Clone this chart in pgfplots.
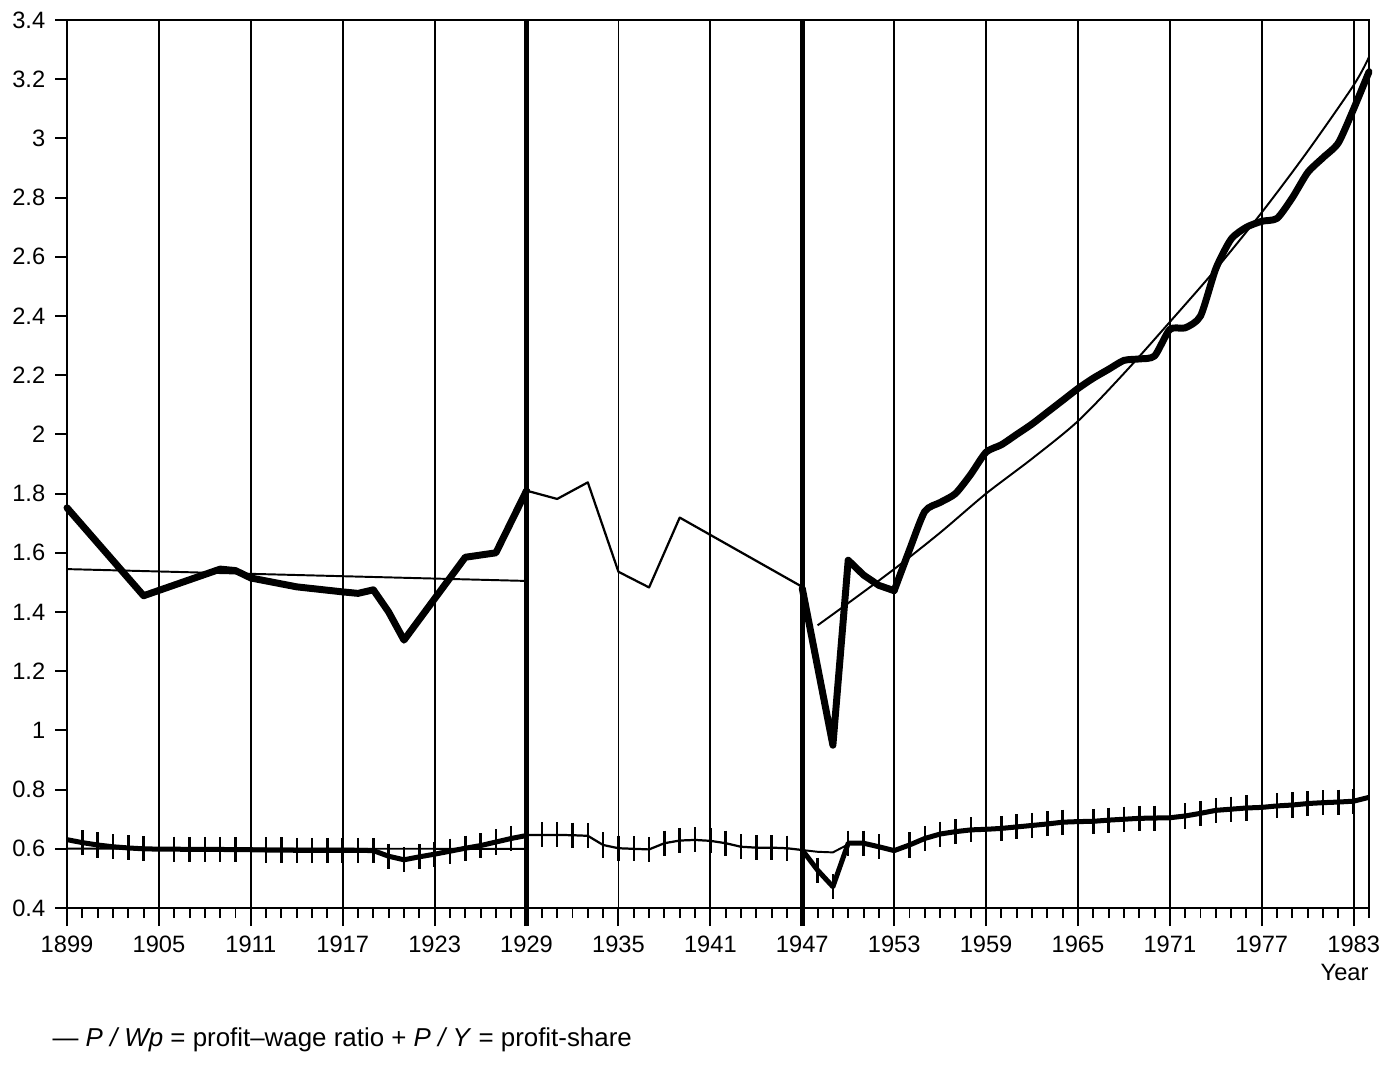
\documentclass[border=0pt]{standalone}
\usepackage{fontspec}
\setmainfont{Liberation Sans}
\usepackage{pgfplots}
\pgfplotsset{compat=1.18}

\begin{document}
\begin{tikzpicture}
\begin{axis}[
  scale only axis, width=467.7pt, height=319pt,
  xmin=1899, xmax=1984, ymin=0.4, ymax=3.4,
  clip=false,
  axis line style={black, line width=0.8pt},
  xtick={1899,1905,1911,1917,1923,1929,1935,1941,1947,1953,1959,1965,1971,1977,1983},
  minor xtick={1899,1900,...,1984},
  xtick pos=bottom, ytick pos=left,
  tick align=outside,
  major tick length=6.5pt, minor tick length=3.6pt,
  tick style={black, line width=0.7pt},
  xmajorgrids, major grid style={black, line width=0.65pt},
  ytick=\empty,
  extra y ticks={0.4,0.6,0.8,1,1.2,1.4,1.6,1.8,2,2.2,2.4,2.6,2.8,3,3.2,3.4},
  extra y tick style={major tick length=4.3pt},
  /pgf/number format/1000 sep={},
  /pgf/number format/assume math mode=true,
  tick label style={font=\fontsize{8.5}{10}\selectfont, black},
]
\coordinate (BL) at (rel axis cs:0,0);
\coordinate (TR) at (rel axis cs:1,1);

% thick separators
\draw[line width=1.8pt] ([yshift=-6.5pt]axis cs:1929,0.4) -- (axis cs:1929,3.4);
\draw[line width=1.8pt] ([yshift=-6.5pt]axis cs:1947,0.4) -- (axis cs:1947,3.4);

% P/Wp profit-wage ratio
\addplot[line width=2.5pt, line join=round, line cap=round] coordinates {
 (1899,1.752) (1904,1.455) (1909,1.545) (1910,1.540) (1911,1.515) (1914,1.485)
 (1917,1.468) (1918,1.463) (1919,1.475) (1920,1.400) (1921,1.305) (1925,1.585)
 (1927,1.600) (1929,1.810)};
\addplot[line width=0.7pt] coordinates {(1899,1.545) (1929,1.505)};
\addplot[line width=0.8pt, line join=round] coordinates {
 (1929,1.810) (1931,1.782) (1933,1.838) (1935,1.536) (1937,1.483) (1939,1.719) (1947,1.485)};
\addplot[line width=2.5pt, line join=round, line cap=round] coordinates {
 (1947,1.480) (1949,0.950) (1950,1.575) (1951,1.525) (1952,1.490) (1953,1.472)};
\addplot[line width=2.5pt, line join=round, line cap=round, smooth, tension=0.4] coordinates {
 (1953,1.472) (1954,1.610) (1955,1.740) (1956,1.770) (1957,1.800) (1958,1.865)
 (1959,1.940) (1960,1.965) (1961,2.000) (1962,2.035) (1963,2.075) (1964,2.115)
 (1965,2.155) (1966,2.190) (1967,2.220) (1968,2.250) (1969,2.255) (1970,2.265)
 (1971,2.355) (1972,2.360) (1973,2.400) (1974,2.560) (1975,2.660) (1976,2.700)
 (1977,2.720) (1978,2.730) (1979,2.800) (1980,2.885) (1981,2.935) (1982,2.985)
 (1983,3.100) (1984,3.225)};
\addplot[line width=0.7pt, smooth] coordinates {
 (1948,1.355) (1950,1.430) (1953,1.545) (1956,1.668) (1959,1.800) (1962,1.918)
 (1965,2.045) (1968,2.206) (1971,2.380) (1974,2.558) (1977,2.750) (1980,2.957)
 (1983,3.180) (1984,3.275)};

% P/Y profit share
\addplot[line width=0.7pt] coordinates {(1899,0.601) (1929,0.600)};
\addplot[line width=1.8pt, line join=round, mark=|, mark size=4.5pt, mark options={line width=0.9pt}] coordinates {
 (1899,0.631) (1900,0.621) (1901,0.613) (1902,0.607) (1903,0.603) (1904,0.600)
 (1905,0.599) (1906,0.599) (1907,0.598) (1908,0.598) (1909,0.598) (1910,0.597)
 (1911,0.597) (1912,0.596) (1913,0.596) (1914,0.595) (1915,0.595) (1916,0.595)
 (1917,0.595) (1918,0.595) (1919,0.594) (1920,0.575) (1921,0.563) (1922,0.573)
 (1923,0.582) (1924,0.592) (1925,0.602) (1926,0.611) (1927,0.623) (1928,0.635)
 (1929,0.645)};
\addplot[line width=0.8pt, line join=round, mark=|, mark size=4.5pt, mark options={line width=0.9pt}] coordinates {
 (1929,0.647) (1930,0.647) (1931,0.647) (1932,0.646) (1933,0.644) (1934,0.613)
 (1935,0.602) (1936,0.600) (1937,0.598) (1938,0.619) (1939,0.628) (1940,0.630)
 (1941,0.627) (1942,0.619) (1943,0.607) (1944,0.604) (1945,0.604) (1946,0.602)
 (1947,0.596)};
\addplot[line width=0.7pt] coordinates {(1947,0.596) (1948,0.590) (1949,0.588) (1950,0.615)};
\addplot[line width=1.8pt, line join=round, mark=|, mark size=4.5pt, mark options={line width=0.9pt}] coordinates {
 (1947,0.596) (1948,0.528) (1949,0.472) (1950,0.619) (1951,0.619) (1952,0.607)
 (1953,0.594) (1954,0.613) (1955,0.635) (1956,0.650) (1957,0.658) (1958,0.664)
 (1959,0.666) (1960,0.669) (1961,0.674) (1962,0.679) (1963,0.684) (1964,0.690)
 (1965,0.692) (1966,0.693) (1967,0.697) (1968,0.700) (1969,0.703) (1970,0.704)
 (1971,0.705) (1972,0.711) (1973,0.720) (1974,0.730) (1975,0.734) (1976,0.738)
 (1977,0.740) (1978,0.745) (1979,0.748) (1980,0.753) (1981,0.756) (1982,0.758)
 (1983,0.761) (1984,0.774)};

\node[anchor=north east, inner sep=0pt, yshift=-20pt, font=\fontsize{8.5}{10}\selectfont] at (rel axis cs:1,0) {Year};
\node[anchor=west, inner sep=0pt, xshift=-5.4pt, yshift=-47.4pt, font=\fontsize{9.3}{11}\selectfont] at (rel axis cs:0,0)
 {\textemdash\ \textit{P / Wp} = profit\textendash wage ratio + \textit{P / Y} = profit-share};
\end{axis}
\pgfresetboundingbox
\path[use as bounding box] ([shift={(-24.07pt,-59.6pt)}]BL) rectangle ([shift={(8.26pt,7.18pt)}]TR);
\end{tikzpicture}
\end{document}
